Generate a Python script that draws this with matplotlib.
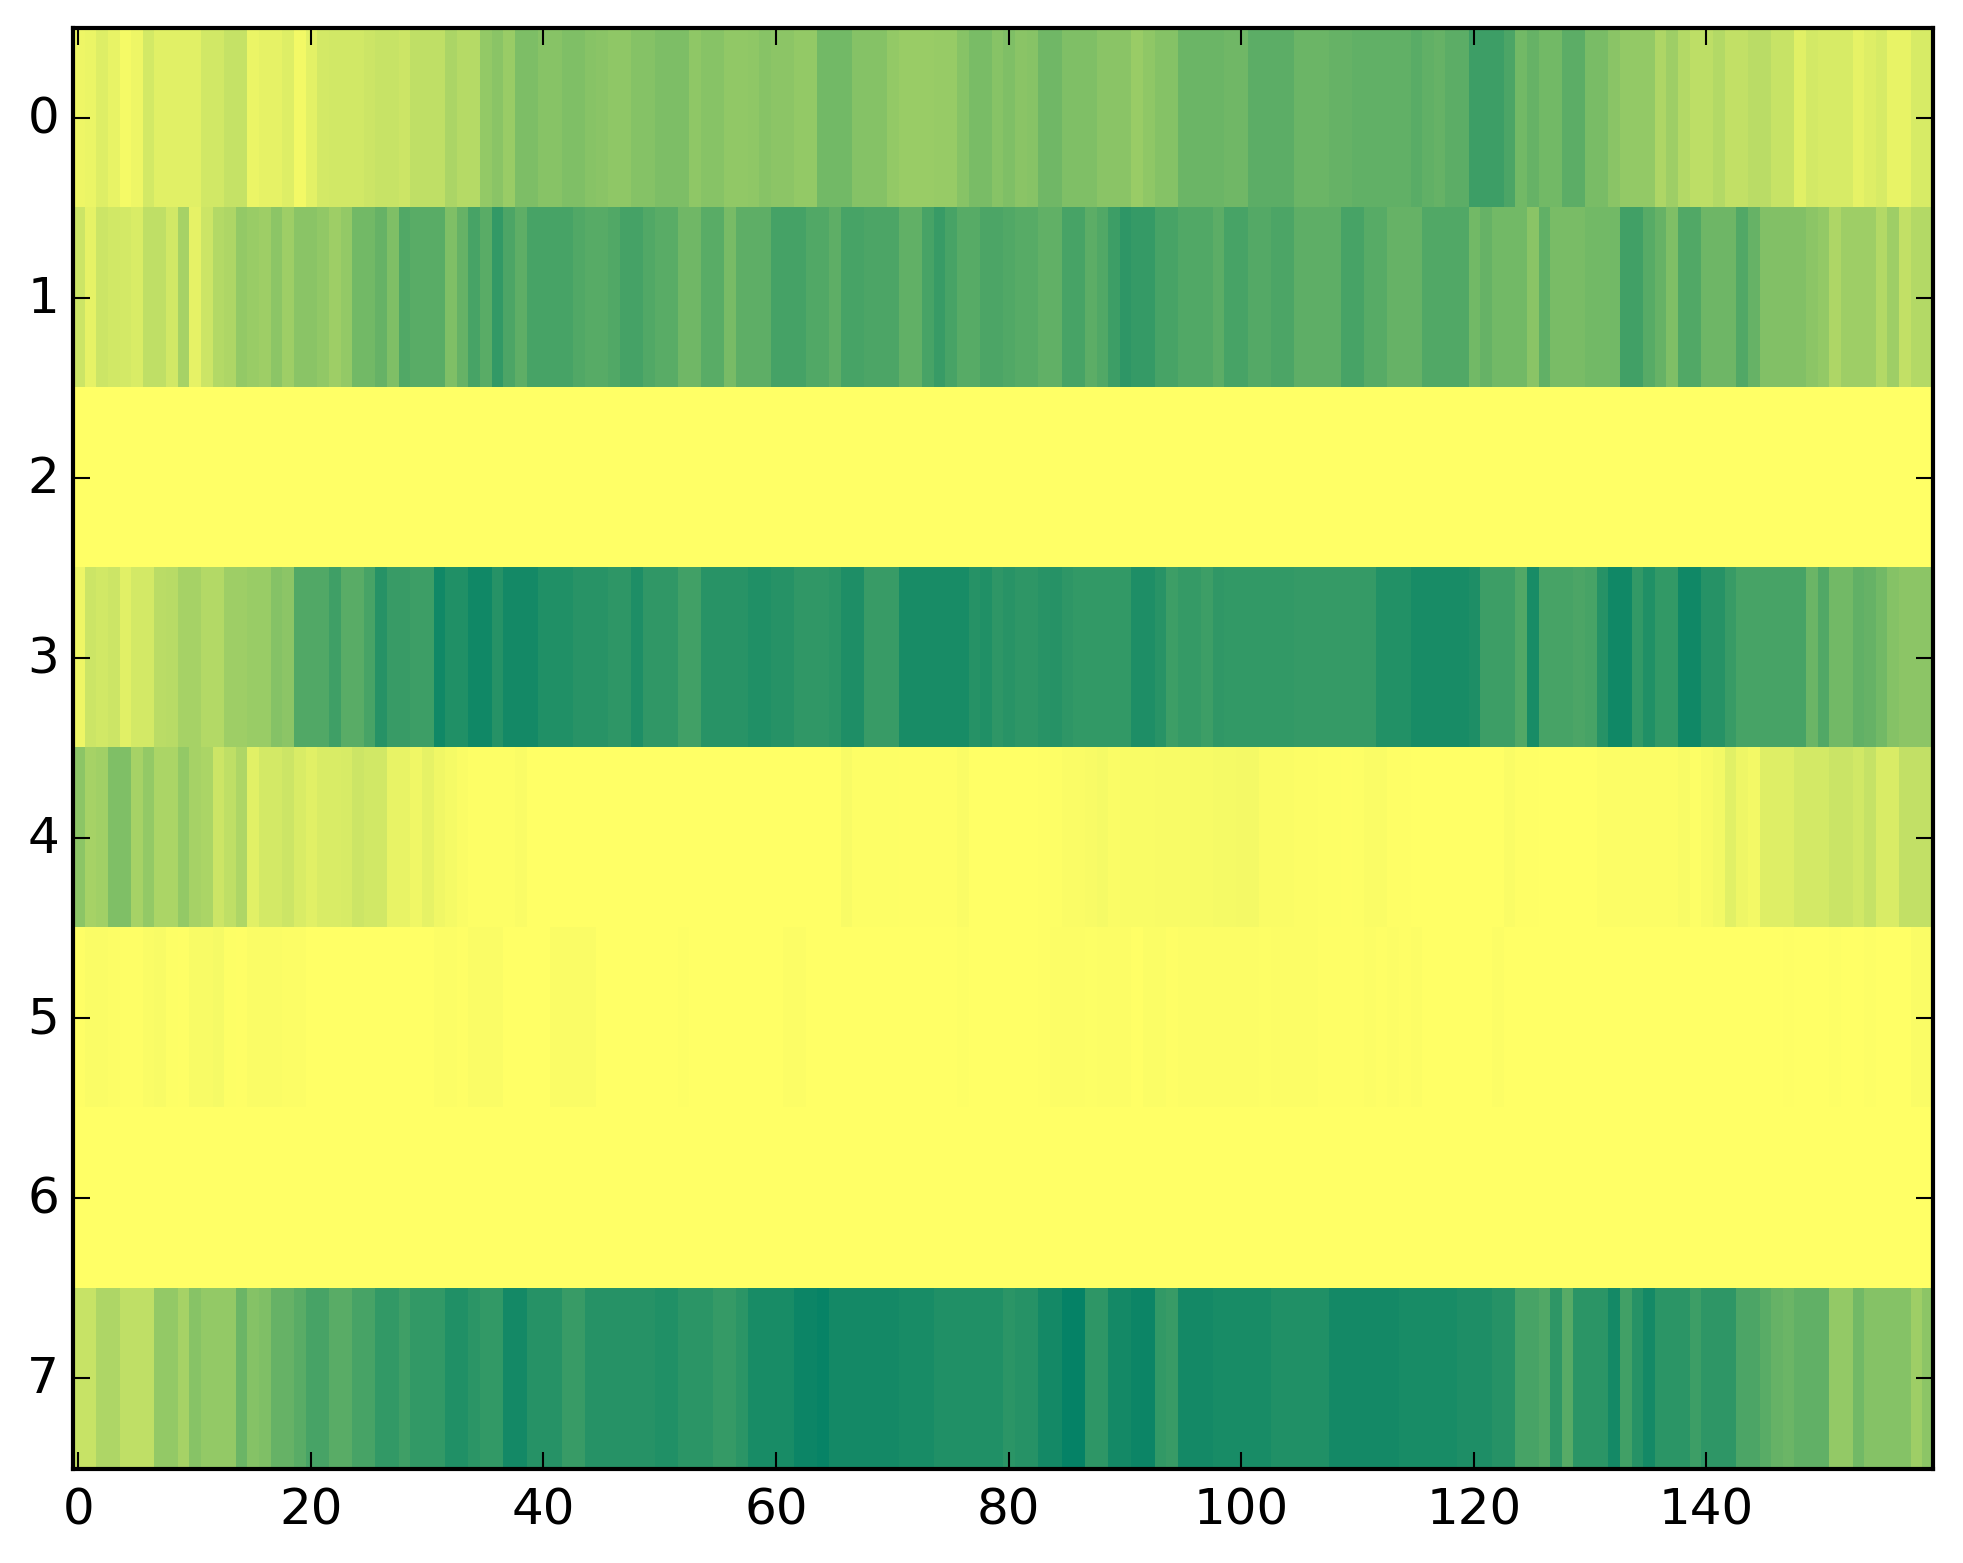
import numpy as np
import matplotlib
matplotlib.use("Agg")
import matplotlib.pyplot as plt

plt.style.use('classic')

# values, 160 columns per row (0 = yellow end of summer_r)
row0 = [.07,.08,.13,.09,.04,.07,.17,.12,.12,.12,.12,.18,.18,.23,.23,.08,.10,.10,.13,.05,
        .11,.17,.18,.18,.18,.20,.22,.22,.20,.25,.25,.25,.33,.29,.29,.42,.46,.40,.51,.51,
        .47,.47,.50,.50,.47,.46,.44,.44,.48,.48,.51,.51,.51,.44,.47,.47,.43,.43,.44,.47,
        .45,.45,.42,.42,.55,.55,.55,.48,.48,.48,.42,.40,.40,.40,.41,.41,.47,.52,.52,.47,
        .50,.46,.47,.56,.56,.50,.50,.50,.46,.46,.46,.40,.44,.48,.48,.58,.58,.58,.58,.56,
        .56,.64,.64,.64,.64,.58,.58,.58,.60,.60,.62,.62,.62,.62,.62,.65,.62,.60,.64,.64,
        .76,.76,.76,.70,.55,.60,.55,.55,.64,.64,.52,.52,.46,.42,.42,.42,.32,.38,.30,.26,
        .26,.30,.24,.24,.27,.27,.22,.22,.12,.17,.16,.16,.16,.10,.13,.16,.09,.09,.16,.16]
row1 = [.20,.10,.20,.18,.17,.15,.25,.25,.18,.35,.10,.20,.30,.32,.42,.40,.38,.45,.38,.46,
        .46,.43,.38,.42,.55,.55,.60,.50,.68,.65,.65,.65,.50,.60,.72,.65,.80,.70,.63,.72,
        .72,.72,.72,.68,.66,.66,.68,.73,.73,.68,.65,.65,.56,.56,.65,.65,.53,.63,.63,.63,
        .73,.73,.73,.68,.68,.63,.72,.72,.70,.70,.70,.62,.62,.72,.78,.72,.66,.66,.70,.70,
        .68,.66,.66,.62,.62,.72,.72,.64,.68,.76,.82,.79,.79,.72,.72,.68,.68,.68,.64,.72,
        .72,.67,.67,.70,.70,.63,.63,.63,.63,.72,.72,.66,.66,.60,.60,.60,.68,.68,.68,.68,
        .55,.60,.55,.55,.55,.46,.62,.52,.52,.52,.55,.55,.55,.74,.74,.66,.60,.50,.68,.68,
        .57,.57,.57,.68,.60,.49,.49,.49,.49,.45,.42,.32,.38,.38,.38,.30,.38,.24,.30,.30]
row2 = [0.0] * 160
row3 = [.07,.20,.18,.20,.12,.17,.17,.27,.28,.35,.35,.30,.30,.38,.38,.40,.40,.48,.45,.68,
        .68,.68,.75,.65,.65,.72,.85,.78,.78,.76,.76,.93,.87,.87,.93,.93,.85,.92,.92,.92,
        .87,.87,.87,.84,.84,.84,.82,.82,.88,.81,.81,.81,.74,.74,.84,.84,.84,.84,.87,.87,
        .85,.85,.81,.81,.81,.83,.88,.88,.78,.78,.78,.90,.90,.90,.90,.90,.90,.85,.87,.82,
        .84,.82,.82,.84,.85,.82,.80,.80,.80,.80,.80,.88,.88,.84,.76,.79,.79,.76,.81,.80,
        .80,.80,.80,.80,.80,.79,.79,.79,.79,.79,.79,.79,.86,.86,.86,.90,.90,.90,.90,.90,
        .88,.76,.76,.76,.68,.90,.72,.72,.72,.70,.72,.85,.93,.93,.80,.87,.80,.80,.93,.93,
        .85,.85,.78,.72,.72,.72,.72,.72,.72,.58,.68,.55,.55,.62,.60,.55,.48,.45,.45,.45]
row4 = [.45,.35,.37,.50,.50,.35,.42,.33,.33,.42,.35,.33,.20,.25,.32,.12,.17,.17,.20,.15,
        .12,.15,.15,.16,.20,.18,.18,.09,.09,.06,.10,.06,.04,.02,.01,.01,.01,.01,.02,.00,
        .00,.00,.00,.00,.00,.00,.00,.00,.00,.00,.00,.00,.00,.00,.00,.00,.00,.00,.00,.00,
        .00,.00,.00,.00,.00,.00,.03,.01,.01,.01,.01,.005,.005,.005,.005,.005,.02,.00,.00,.00,
        .00,.00,.00,.005,.01,.02,.02,.03,.04,.02,.025,.025,.025,.03,.03,.03,.035,.035,.04,.04,
        .045,.045,.02,.02,.02,.015,.015,.01,.01,.005,.01,.02,.02,.005,.005,.00,.00,.00,.00,.00,
        .00,.00,.00,.02,.005,.005,.00,.00,.00,.00,.00,.015,.015,.015,.015,.015,.015,.015,.03,.01,
        .03,.05,.12,.07,.05,.13,.13,.13,.17,.17,.17,.21,.21,.18,.23,.15,.15,.24,.24,.24]
row5 = [.005,.02,.02,.015,.005,.005,.02,.03,.01,.005,.03,.03,.04,.01,.005,.02,.02,.02,.015,.015,
        .00,.00,.00,.00,.00,.00,.00,.00,.00,.00,.00,.015,.015,.005,.02,.02,.02,.00,.00,.00,
        .00,.02,.02,.02,.02,.00,.00,.00,.00,.00,.00,.00,.01,.00,.00,.00,.00,.00,.00,.00,
        .00,.015,.015,.00,.00,.00,.00,.00,.00,.00,.00,.00,.00,.00,.00,.00,.01,.00,.00,.00,
        .00,.00,.00,.005,.015,.015,.015,.01,.015,.012,.012,.00,.018,.018,.005,.012,.012,.012,.012,.012,
        .012,.012,.008,.012,.012,.012,.012,.005,.005,.005,.005,.012,.005,.012,.005,.012,.00,.00,.00,.00,
        .00,.00,.012,.00,.00,.00,.00,.00,.00,.00,.00,.00,.00,.00,.00,.00,.00,.00,.00,.00,
        .00,.00,.00,.00,.00,.00,.00,.005,.00,.00,.00,.01,.00,.00,.01,.00,.00,.00,.02,.02]
row6 = [0.0] * 160
row7 = [.22,.22,.32,.32,.25,.25,.25,.42,.42,.35,.47,.42,.42,.42,.58,.48,.50,.60,.60,.65,
        .72,.72,.65,.65,.72,.72,.80,.80,.75,.80,.80,.80,.87,.87,.83,.80,.80,.92,.92,.85,
        .85,.85,.78,.78,.85,.85,.85,.85,.85,.85,.87,.87,.83,.83,.83,.79,.79,.83,.90,.90,
        .90,.90,.95,.95,.97,.92,.92,.92,.92,.92,.92,.90,.90,.90,.87,.87,.87,.87,.87,.87,
        .83,.85,.85,.92,.92,.98,.98,.82,.82,.92,.92,.95,.95,.80,.78,.92,.92,.92,.90,.90,
        .90,.90,.90,.87,.87,.87,.87,.87,.92,.92,.92,.92,.92,.92,.90,.90,.90,.90,.90,.88,
        .88,.88,.85,.85,.72,.72,.68,.82,.66,.83,.83,.83,.92,.74,.85,.92,.83,.83,.83,.76,
        .82,.82,.82,.70,.70,.65,.60,.58,.62,.62,.62,.42,.42,.55,.48,.48,.48,.48,.38,.45]

matrix = np.array([row0, row1, row2, row3, row4, row5, row6, row7])

fig = plt.figure(figsize=(1963 / 300.0, 1564 / 300.0), facecolor='white')
ax = fig.add_axes([72.5 / 1963, 1 - 1469.5 / 1564, (1933.0 - 72.5) / 1963, (1469.5 - 29) / 1564])
ax.imshow(matrix, cmap='summer_r', vmin=0, vmax=1, aspect='auto', interpolation='nearest')
ax.set_xticks(np.arange(0, 160, 20))
ax.set_yticks(np.arange(0, 8))
ax.tick_params(axis='y', pad=3.2)

fig.savefig('out.png', dpi=300, facecolor='white')
